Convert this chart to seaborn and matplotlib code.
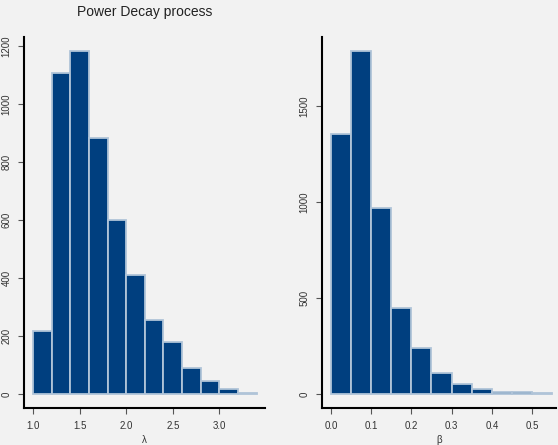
import numpy as np
import pandas as pd
import seaborn as sns
import matplotlib
matplotlib.use("Agg")
import matplotlib.pyplot as plt

# Left panel: lambda histogram
lam_edges = [1.0, 1.2, 1.4, 1.6, 1.8, 2.0, 2.2, 2.4, 2.6, 2.8, 3.0, 3.2, 3.4]
lam_counts = [218, 1108, 1183, 884, 600, 410, 257, 179, 90, 44, 17, 3]
lam_ticks = [1.0, 1.5, 2.0, 2.5, 3.0]
lam_yticks = [0, 200, 400, 600, 800, 1000, 1200]

# Right panel: beta histogram
beta_edges = [0.0, 0.05, 0.10, 0.15, 0.20, 0.25, 0.30, 0.35, 0.40, 0.45, 0.50, 0.55]
beta_counts = [1354, 1786, 966, 448, 240, 109, 50, 26, 13, 13, 3]
beta_ticks = [0.0, 0.1, 0.2, 0.3, 0.4, 0.5]
beta_yticks = [0, 500, 1000, 1500]

title = "Power Decay process"
bg = "#f2f2f2"
bar_color = "#003f7f"
edge_color = "#b0c4d8"

sns.set_style("white")
plt.rcParams["font.family"] = ["Liberation Sans", "DejaVu Sans"]

fig = plt.figure(figsize=(5.58, 4.45), dpi=100, facecolor=bg)
ax1 = fig.add_axes([0.043, 0.083, 0.432, 0.834])
ax2 = fig.add_axes([0.577, 0.083, 0.420, 0.834])

def draw(ax, edges, counts, xticks, yticks, xlim, ylim, xlabel):
    e = np.array(edges)
    centers = (e[:-1] + e[1:]) / 2
    df = pd.DataFrame({"x": centers, "w": counts})
    sns.histplot(data=df, x="x", weights="w", bins=list(edges), ax=ax,
                 color=bar_color, alpha=1, edgecolor=edge_color, linewidth=1.3)
    ax.set_facecolor(bg)
    ax.set_xlim(*xlim)
    ax.set_ylim(*ylim)
    ax.set_xticks(xticks)
    ax.set_xticklabels([f"{t:.1f}" for t in xticks])
    ax.set_yticks(yticks)
    ax.set_yticklabels([str(t) for t in yticks], rotation=90, va="center")
    ax.set_xlabel(xlabel, fontsize=7, color="#333333", labelpad=3)
    ax.set_ylabel("")
    for s in ["top", "right"]:
        ax.spines[s].set_visible(False)
    for s in ["left", "bottom"]:
        ax.spines[s].set_color("black")
        ax.spines[s].set_linewidth(1.5)
    ax.tick_params(axis="both", which="both", length=4, width=0.8, color="#555555",
                   labelsize=7, labelcolor="#333333", pad=5,
                   left=True, bottom=True)

draw(ax1, lam_edges, lam_counts, lam_ticks, lam_yticks, (0.903, 3.49), (-48, 1231), "λ")
draw(ax2, beta_edges, beta_counts, beta_ticks, beta_yticks, (-0.022, 0.560), (-73, 1859), "β")

ax1.set_title(title, fontsize=10, color="#222222", pad=15)

fig.savefig("out.png", dpi=100, facecolor=bg)
